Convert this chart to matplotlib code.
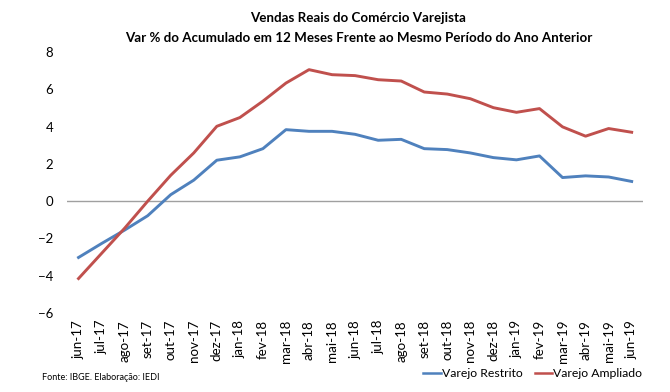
import matplotlib
matplotlib.use("Agg")
import matplotlib.pyplot as plt

meses = ['jun-17', 'jul-17', 'ago-17', 'set-17', 'out-17', 'nov-17', 'dez-17',
         'jan-18', 'fev-18', 'mar-18', 'abr-18', 'mai-18', 'jun-18', 'jul-18',
         'ago-18', 'set-18', 'out-18', 'nov-18', 'dez-18', 'jan-19', 'fev-19',
         'mar-19', 'abr-19', 'mai-19', 'jun-19']

restrito = [-3.02, -2.27, -1.55, -0.78, 0.35, 1.13, 2.2, 2.38, 2.82, 3.84,
            3.75, 3.75, 3.59, 3.27, 3.32, 2.82, 2.77, 2.59, 2.34, 2.22,
            2.43, 1.27, 1.36, 1.3, 1.06]

ampliado = [-4.15, -2.8, -1.45, 0.0, 1.39, 2.59, 4.02, 4.49, 5.37, 6.34,
            7.06, 6.79, 6.74, 6.52, 6.45, 5.86, 5.75, 5.5, 5.02, 4.77,
            4.97, 3.99, 3.49, 3.9, 3.7]

plt.rcParams['font.family'] = ['Lato', 'DejaVu Sans']

fig = plt.figure(figsize=(6.7, 3.92), dpi=100)
ax = fig.add_axes([0.1, 0.2015, 0.86, 0.6655])

x = list(range(len(meses)))
ax.plot(x, restrito, color='#4F81BD', lw=2.1, label='Varejo Restrito')
ax.plot(x, ampliado, color='#C0504D', lw=2.1, label='Varejo Ampliado')

ax.axhline(0, color='#a0a0a0', lw=1, zorder=0)
ax.set_xlim(-0.5, len(meses) - 0.5)
ax.set_ylim(-6, 8)
ax.set_yticks([-6, -4, -2, 0, 2, 4, 6, 8])
ax.set_xticks(x)
ax.set_xticklabels(meses, rotation=90, fontsize=9.6)
ax.tick_params(axis='y', length=0, labelsize=9.5, pad=10)
ax.tick_params(axis='x', length=0, pad=5)
for s in ax.spines.values():
    s.set_visible(False)

fig.text(0.535, 0.955, 'Vendas Reais do Comércio Varejista', ha='center', va='center',
         fontsize=9.6, fontweight='bold')
fig.text(0.535, 0.903, 'Var % do Acumulado em 12 Meses Frente ao Mesmo Período do Ano Anterior',
         ha='center', va='center', fontsize=9.6, fontweight='bold')
fig.text(0.062, 0.036, 'Fonte: IBGE. Elaboração: IEDI', fontsize=6.5, va='center')

handles, labels = ax.get_legend_handles_labels()
leg = fig.legend(handles, labels, loc='center left', bbox_to_anchor=(0.632, 0.046),
                 ncol=2, frameon=False, fontsize=8.8, handlelength=1.4,
                 handletextpad=0.1, columnspacing=1.0, borderpad=0, borderaxespad=0)
for h in leg.get_lines():
    h.set_linewidth(1.8)

fig.savefig('out.png', dpi=100, facecolor='white')
